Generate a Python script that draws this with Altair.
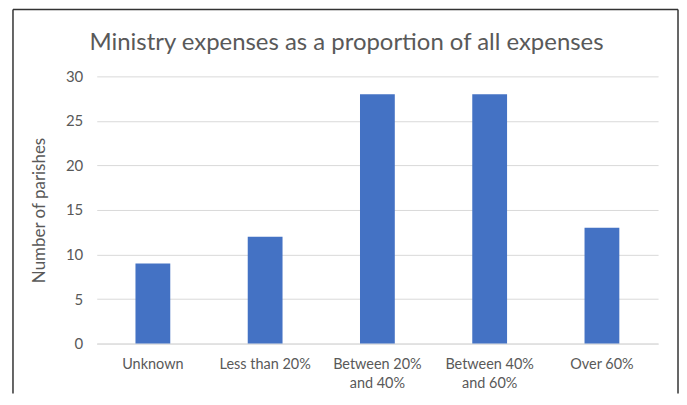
import altair as alt
import pandas as pd

categories = ["Unknown", "Less than 20%", "Between 20%|and 40%", "Between 40%|and 60%", "Over 60%"]
parishes = [9, 12, 28, 28, 13]
y_ticks = [0, 5, 10, 15, 20, 25, 30]

df = pd.DataFrame({"category": categories, "parishes": parishes})

GRAY = "#595959"
GRID = "#D9D9D9"
FONT = "Lato"

bars = alt.Chart(df).mark_bar(color="#4472C4").encode(
    x=alt.X(
        "category:N",
        sort=categories,
        title=None,
        scale=alt.Scale(paddingInner=0.69, paddingOuter=0.345),
        axis=alt.Axis(
            labelAngle=0,
            labelExpr="split(datum.label, '|')",
            labelColor=GRAY,
            labelFont=FONT,
            labelFontSize=14.5,
            labelPadding=14,
            labelLineHeight=19,
            ticks=False,
            domainColor=GRID,
            domainWidth=1,
        ),
    ),
    y=alt.Y(
        "parishes:Q",
        scale=alt.Scale(domain=[0, 30], nice=False),
        axis=alt.Axis(
            values=y_ticks,
            title="Number of parishes",
            titleFont=FONT,
            titleFontSize=17,
            titleFontWeight="normal",
            titleColor=GRAY,
            titlePadding=17,
            labelColor=GRAY,
            labelFont=FONT,
            labelFontSize=15,
            labelPadding=14,
            ticks=False,
            domain=False,
            grid=True,
            gridColor=GRID,
            gridWidth=1,
        ),
    ),
)

frame_df = pd.DataFrame({"k": [0]})
left_edge = alt.Chart(frame_df).mark_rule(color="#333333", strokeWidth=1.5).encode(
    x=alt.value(-84), y=alt.value(-67), y2=alt.value(318)
)
right_edge = alt.Chart(frame_df).mark_rule(color="#333333", strokeWidth=1.5).encode(
    x=alt.value(583), y=alt.value(-67), y2=alt.value(318)
)
top_edge = alt.Chart(frame_df).mark_rule(color="#333333", strokeWidth=1.5).encode(
    x=alt.value(-84), x2=alt.value(583), y=alt.value(-67)
)

chart = alt.layer(bars, left_edge, right_edge, top_edge).properties(
    width=563,
    height=268,
    padding={"left": 4, "top": 0, "right": 0, "bottom": 0},
    title=alt.TitleParams(
        "Ministry expenses as a proportion of all expenses",
        font=FONT,
        fontSize=24,
        fontWeight="normal",
        color=GRAY,
        anchor="middle",
        frame="group",
        dx=-31,
        offset=-46,
    ),
).configure(background="white").configure_view(stroke=None)

chart.save("out.html", embed_options={"renderer": "svg", "actions": False})
